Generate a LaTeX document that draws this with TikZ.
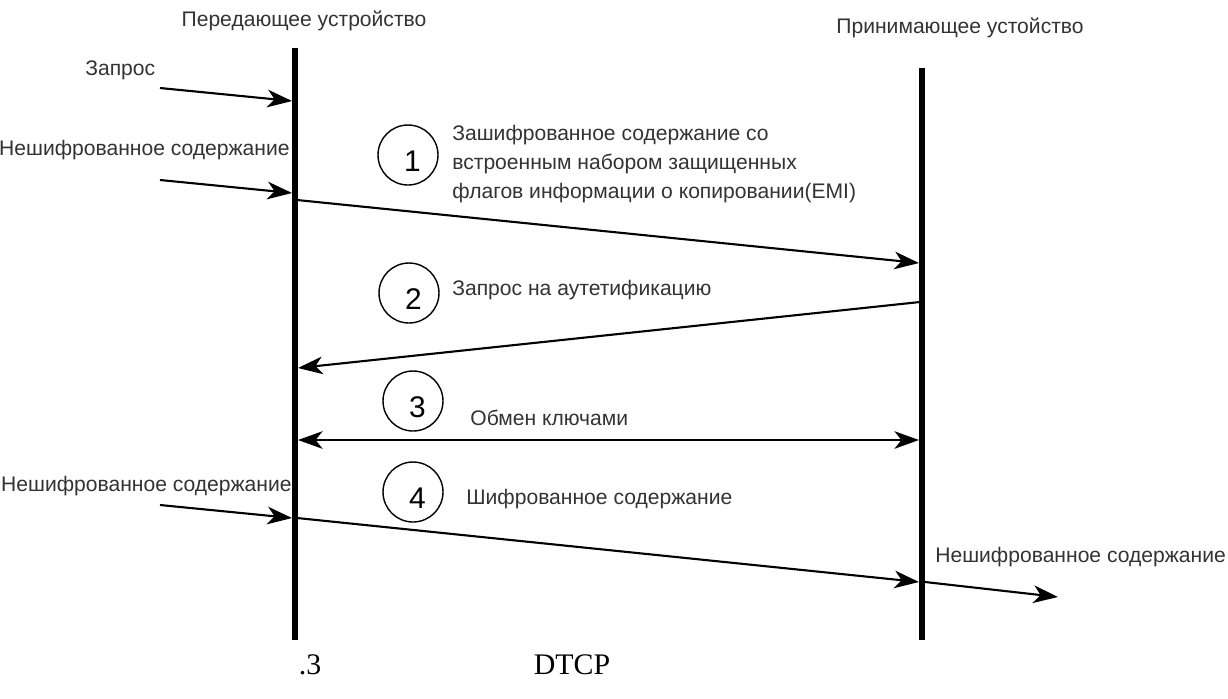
\documentclass[tikz,border=0pt]{standalone}
\usepackage{fontspec}
\setmainfont{Liberation Serif}
\setsansfont{Liberation Sans}
\usetikzlibrary{arrows.meta}
\begin{document}
\begin{tikzpicture}[x=0.02cm,y=-0.02cm,
    lbl/.style={font=\sffamily\fontsize{12}{16.5}\selectfont,text=black!80,inner sep=0pt,align=left},
    num/.style={draw,circle,line width=0.8pt,minimum size=1.2cm,inner sep=0pt,
        label={[font=\sffamily\fontsize{17}{20}\selectfont,xshift=2.5pt,yshift=-3.5pt]center:#1}},
    tip/.tip={Stealth[length=14pt,width=10pt,inset=4pt]},
    msg/.style={line width=1.2pt,-tip},
    life/.style={line width=3.4pt}]
    \useasboundingbox (0,0) rectangle (1228,698);
    % lifelines
    \coordinate (tx top) at (295,48); \coordinate (tx bot) at (295,640);
    \coordinate (rx top) at (922,68); \coordinate (rx bot) at (922,640);
    \draw[life] (tx top) -- (tx bot);
    \draw[life] (rx top) -- (rx bot);
    \node[lbl] (txname) at (304,21) {Передающее устройство};
    \node[lbl] (rxname) at (960,28) {Принимающее устойство};
    % inputs and output
    \node[lbl,anchor=west] (req) at (85,70) {Запрос};
    \node[lbl,anchor=east] (plainA) at (290,150) {Нешифрованное содержание};
    \node[lbl,anchor=east] (plainB) at (292,486) {Нешифрованное содержание};
    \node[lbl,anchor=west] (plainC) at (935,557) {Нешифрованное содержание};
    \coordinate (inA) at (160,88);  \coordinate (txA) at (292,101);
    \coordinate (inB) at (160,180); \coordinate (txB) at (292,193);
    \coordinate (inC) at (160,505); \coordinate (txC) at (292,518);
    \coordinate (rxC) at (925,582); \coordinate (outC) at (1058,597);
    \foreach \a/\b in {inA/txA,inB/txB,inC/txC,rxC/outC}{\draw[msg] (\a) -- (\b);}
    % numbered steps
    \foreach \n/\x/\y in {1/408/155,2/409/293,3/413/401,4/413/492}{\node[num=\n] (step\n) at (\x,\y) {};}
    \node[lbl,anchor=west] (msgtext1) at (452,164) {Зашифрованное содержание со\\встроенным набором защищенных\\флагов информации о копировании(EMI)};
    \node[lbl,anchor=west] (msgtext2) at (452,290) {Запрос на аутетификацию};
    \node[lbl,anchor=west] (msgtext3) at (470,418) {Обмен ключами};
    \node[lbl,anchor=west] (msgtext4) at (466,499) {Шифрованное содержание};
    % messages between devices
    \coordinate (tx1) at (297,200); \coordinate (rx1) at (919,263);
    \coordinate (rx2) at (920,302); \coordinate (tx2) at (298,368);
    \coordinate (tx3) at (298,440); \coordinate (rx3) at (919,440);
    \coordinate (tx4) at (297,518); \coordinate (rx4) at (919,582);
    \draw[msg] (tx1) -- (rx1);
    \draw[msg] (rx2) -- (tx2);
    \draw[msg,tip-tip] (tx3) -- (rx3);
    \draw[msg] (tx4) -- (rx4);
    % caption
    \node[font=\fontsize{17}{20}\selectfont] (fignum) at (310,665) {.3};
    \node[font=\fontsize{17}{20}\selectfont] (figname) at (572,665) {DTCP};
\end{tikzpicture}
\end{document}
